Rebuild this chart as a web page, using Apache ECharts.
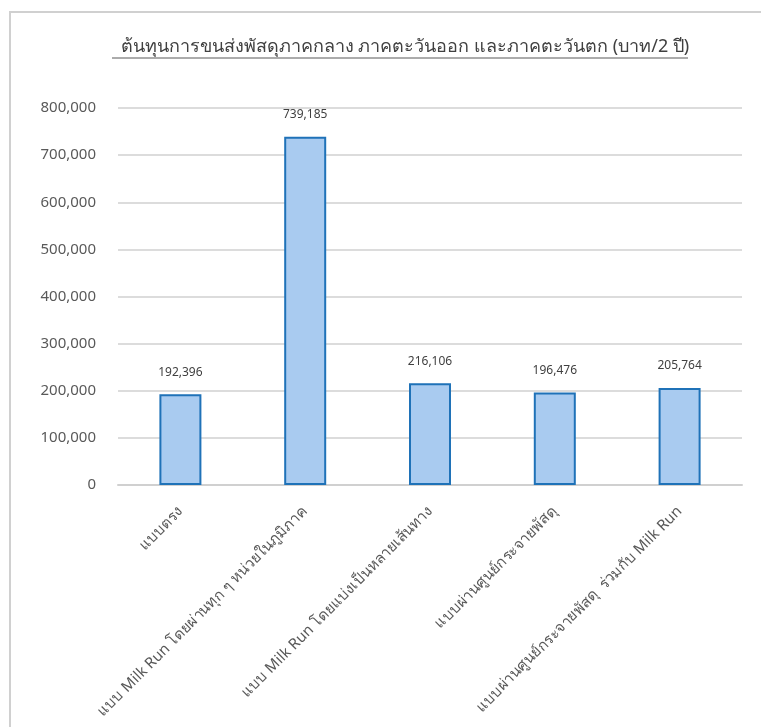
<!DOCTYPE html>
<html>
<head>
<meta charset="utf-8">
<script src="https://cdn.jsdelivr.net/npm/echarts@6/dist/echarts.min.js"></script>
<style>
  html, body { margin: 0; padding: 0; background: #fff; }
  #chart { width: 761px; height: 727px; }
</style>
</head>
<body>
<div id="chart"></div>
<script>
// ข้อมูลกราฟ
var titleText = 'ต้นทุนการขนส่งพัสดุภาคกลาง ภาคตะวันออก และภาคตะวันตก (บาท/2 ปี)';
var categories = [
    'แบบตรง',
    'แบบ Milk Run โดยผ่านทุก ๆ หน่วยในภูมิภาค',
    'แบบ Milk Run โดยแบ่งเป็นหลายเส้นทาง',
    'แบบผ่านศูนย์กระจายพัสดุ',
    'แบบผ่านศูนย์กระจายพัสดุ  ร่วมกับ Milk Run'
];
var costValues = [192396, 739185, 216106, 196476, 205764];
var yTicks = [0, 100000, 200000, 300000, 400000, 500000, 600000, 700000, 800000];

var fontFamily = 'Tahoma, "Noto Sans", "DejaVu Sans", sans-serif';

function fmt(v) {
    return String(v).replace(/\B(?=(\d{3})+(?!\d))/g, ',');
}

var myChart = echarts.init(document.getElementById('chart'));

var option = {
    backgroundColor: '#ffffff',
    animation: false,
    title: {
        text: titleText,
        left: 400,
        textAlign: 'center',
        top: 33,
        textStyle: {
            color: '#404040',
            fontSize: 18,
            fontWeight: 'normal',
            fontFamily: fontFamily
        }
    },
    graphic: [
        // กรอบรอบกราฟ
        {
            type: 'rect',
            shape: { x: 10, y: 12, width: 760, height: 730 },
            style: { fill: 'none', stroke: '#d0d0d0', lineWidth: 2 },
            silent: true
        },
        // เส้นใต้ชื่อกราฟ
        {
            type: 'line',
            shape: { x1: 112, y1: 58, x2: 688, y2: 58 },
            style: { stroke: '#595959', lineWidth: 1 },
            silent: true
        }
    ],
    grid: {
        left: 118,
        right: 19,
        top: 108,
        bottom: 242,
        containLabel: false
    },
    xAxis: {
        type: 'category',
        data: categories,
        axisLine: { lineStyle: { color: '#d0d0d0', width: 2 } },
        axisTick: { show: false },
        axisLabel: {
            rotate: 45,
            interval: 0,
            color: '#595959',
            fontSize: 15,
            fontFamily: fontFamily,
            margin: 24
        }
    },
    yAxis: {
        type: 'value',
        min: yTicks[0],
        max: yTicks[yTicks.length - 1],
        interval: 100000,
        axisLine: { show: false },
        axisTick: { show: false },
        splitLine: { lineStyle: { color: '#d0d0d0', width: 1.5 } },
        axisLabel: {
            color: '#595959',
            fontSize: 15,
            fontFamily: fontFamily,
            margin: 22,
            formatter: function (v) { return fmt(v); }
        }
    },
    series: [{
        type: 'bar',
        data: costValues,
        barWidth: 42,
        itemStyle: {
            color: '#a9cbf0',
            borderColor: '#1f72b8',
            borderWidth: 2
        },
        label: {
            show: true,
            position: 'top',
            distance: 16,
            color: '#404040',
            fontSize: 12,
            fontFamily: fontFamily,
            formatter: function (p) { return fmt(p.value); }
        }
    }]
};

myChart.setOption(option);
</script>
</body>
</html>
